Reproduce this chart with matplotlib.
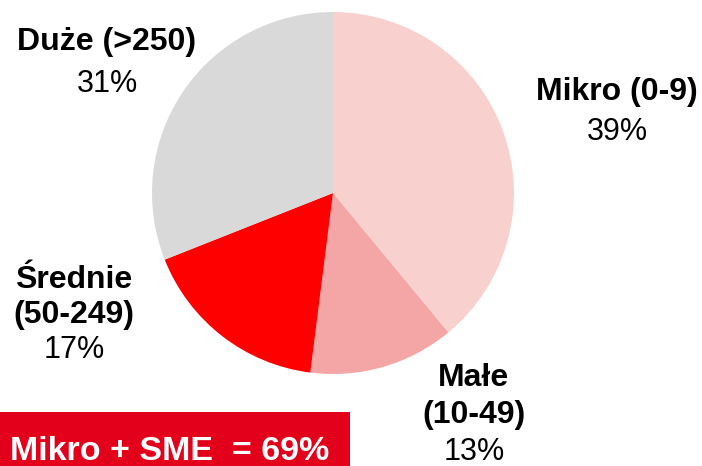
import matplotlib.pyplot as plt
from matplotlib.patches import Rectangle

plt.rcParams['font.family'] = ['Liberation Sans', 'DejaVu Sans']

# company size shares (%), clockwise from 12 o'clock
categories = ['Mikro (0-9)', 'Małe (10-49)', 'Średnie (50-249)', 'Duże (>250)']
shares = [39, 13, 17, 31]
colors = ['#F8D1CF', '#F4A6A6', '#FF0000', '#D9D9D9']

# label lines (bold name lines, then the value line)
label_lines = [['Mikro (0-9)'], ['Małe', '(10-49)'], ['Średnie', '(50-249)'], ['Duże (>250)']]
summary = 'Mikro + SME  = 69%'

W, H = 702, 466
fig = plt.figure(figsize=(W / 100, H / 100), dpi=100)
ax = fig.add_axes([0, 0, 1, 1])

ax.pie(shares, colors=colors, startangle=90, counterclock=False,
       center=(333, H - 193), radius=181,
       wedgeprops=dict(linewidth=0))
ax.set_xlim(0, W)
ax.set_ylim(0, H)
ax.set_aspect('equal')
ax.axis('off')

# label anchors: x centre, first baseline (px from top), line step
anchors = [(617, 100, 40), (474, 386, 37), (74, 288, 35), (107, 50, 42)]
for lines, val, (x, y0, step) in zip(label_lines, shares, anchors):
    for i, line in enumerate(lines):
        ax.text(x, H - (y0 + i * step), line, ha='center', va='baseline',
                fontsize=23, fontweight='bold', color='black')
    ax.text(x, H - (y0 + len(lines) * step), f'{val}%', ha='center',
            va='baseline', fontsize=22, color='black')

# red summary box
ax.add_patch(Rectangle((0, 0), 350, H - 412, facecolor='#E2001A',
                       edgecolor='none'))
ax.text(170, H - 460, summary, ha='center', va='baseline', fontsize=24.5,
        fontweight='bold', color='white')

fig.savefig('out.png', dpi=100)
